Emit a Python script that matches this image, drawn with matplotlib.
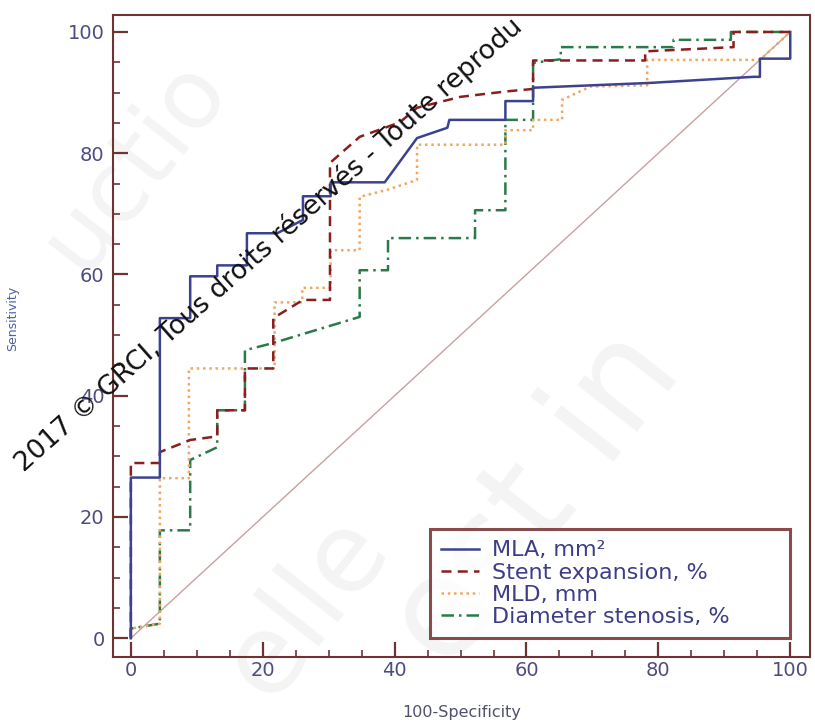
import matplotlib
matplotlib.use("Agg")
import matplotlib.pyplot as plt
import numpy as np

plt.rcParams['font.family'] = ['DejaVu Sans']

# ROC curves (x = 100-specificity, y = sensitivity)
mla_x = [0, 0, 4.4, 4.4, 9, 9, 13.1, 13.1, 17.6, 17.6, 22.2, 26.1, 26.1, 30.3, 30.3,
         38.5, 43.4, 48, 48.3, 56.8, 56.8, 61, 61, 78.8, 94.4, 95.4, 95.4, 100, 100]
mla_y = [0, 26.5, 26.5, 52.8, 52.8, 59.7, 59.7, 61.5, 61.5, 66.8, 66.8, 69, 72.9, 72.9, 75.2,
         75.2, 82.5, 84.2, 85.5, 85.5, 88.6, 88.6, 90.8, 91.6, 92.6, 92.6, 95.6, 95.6, 100]

stent_x = [0, 0, 4.4, 4.4, 9, 13.1, 13.1, 17.3, 17.3, 21.6, 21.6, 26.1, 30.2, 30.2,
           34.7, 40.8, 43.4, 50, 57, 61, 61, 78, 78, 91.4, 91.4, 100]
stent_y = [0, 28.9, 28.9, 30.7, 32.7, 33.3, 37.6, 37.6, 44.5, 44.5, 52.8, 55.8, 55.8, 78.4,
           82.7, 85.1, 87.5, 89.3, 90.2, 90.6, 95.3, 95.3, 96.8, 97.5, 100, 100]

mld_x = [0, 0, 4.4, 4.4, 8.8, 8.8, 21.8, 21.8, 26, 26, 30.3, 30.3, 34.7, 34.7, 39, 43.4,
         43.4, 56.8, 56.8, 61, 61, 65.4, 65.4, 69.7, 78.3, 78.3, 95.4, 100]
mld_y = [0, 1.6, 2.4, 26.4, 26.4, 44.5, 44.5, 55.4, 55.4, 57.8, 57.8, 64, 64, 72.8, 74, 75.6,
         81.4, 81.4, 83.8, 83.8, 85.5, 85.5, 88.8, 91, 91.2, 95.4, 95.4, 100]

ds_x = [0, 0, 4.4, 4.4, 9, 9, 13.1, 13.1, 17.3, 17.3, 21.6, 34.7, 34.7, 39, 39, 52.2, 52.2,
        56.8, 56.8, 61, 61, 65.2, 65.2, 82.3, 82.3, 91, 91, 100]
ds_y = [0, 1.6, 2.4, 17.8, 17.8, 29.4, 31.5, 37.6, 37.6, 47.5, 48.7, 53, 60.7, 60.7, 66, 66,
        70.6, 70.6, 85.5, 85.5, 94.9, 95.5, 97.5, 97.5, 98.7, 98.7, 100, 100]

labels = ["MLA, mm²", "Stent expansion, %", "MLD, mm", "Diameter stenosis, %"]

spine_col = "#6e3434"
tick_col = "#4d4d80"

fig = plt.figure(figsize=(8.15, 7.24), dpi=100)
ax = fig.add_axes([0.1387, 0.0925, 0.8552, 0.8868])
ax.patch.set_alpha(0)

# faint background watermark
for txt, x, y, fs in [("uctio", 0.10, 0.62, 70), ("est in", 0.55, 0.07, 100),
                      ("elle", 0.33, 0.03, 80)]:
    fig.text(x, y, txt, fontsize=fs, color="#f4f4f4", rotation=52,
             rotation_mode="anchor", ha="left", va="baseline", zorder=-1)

ax.plot([0, 100], [0, 100], color="#c9a0a0", lw=1.0, zorder=1)
ax.plot(mla_x, mla_y, color="#3c4290", lw=1.8, ls="-", label=labels[0], zorder=5)
ax.plot(stent_x, stent_y, color="#8a1e1e", lw=1.8, ls=(0, (4, 2.5)), label=labels[1], zorder=4)
ax.plot(mld_x, mld_y, color="#f0a860", lw=1.8, ls=(0, (1, 1.5)), label=labels[2], zorder=3)
ax.plot(ds_x, ds_y, color="#2a7a4a", lw=1.8, ls=(0, (5, 2, 1, 2)), label=labels[3], zorder=2)

ax.set_xlim(-2.7, 103)
ax.set_ylim(-3.1, 102.8)
ax.set_xticks(np.arange(0, 101, 20))
ax.set_yticks(np.arange(0, 101, 20))
ax.set_xticks(np.arange(0, 101, 5), minor=True)
ax.set_yticks(np.arange(0, 101, 5), minor=True)
ax.tick_params(which="major", direction="in", length=10.5, width=1.6, color=spine_col,
               labelsize=14, labelcolor=tick_col)
ax.tick_params(axis="x", which="major", pad=3)
ax.tick_params(axis="y", which="major", pad=6)
ax.tick_params(which="minor", direction="in", length=5, width=1.2, color=spine_col)
for s in ax.spines.values():
    s.set_color(spine_col)
    s.set_linewidth(1.5)

ax.set_xlabel("100-Specificity", fontsize=11.5, color="#505070", labelpad=18)
ax.set_ylabel("Sensitivity", fontsize=9, color="#5060a0")
ax.yaxis.set_label_coords(-0.135, 0.528)

leg = ax.legend(loc="lower left", bbox_to_anchor=(45.4, 0, 54.6, 20), bbox_transform=ax.transData,
                mode="expand", fontsize=16, frameon=True, fancybox=False, borderaxespad=0,
                handlelength=1.7, handletextpad=0.6, labelspacing=0.1, borderpad=0.5)
leg.get_frame().set_edgecolor("#6b1f1f")
leg.get_frame().set_linewidth(2.2)
for t in leg.get_texts():
    t.set_color("#3e3e88")

fig.text(0.0294, 0.348, "2017 © GRCI, Tous droits réservés - Toute reprodu",
         fontsize=19.2, color="#111111", rotation=41.6, rotation_mode="anchor",
         ha="left", va="baseline", zorder=10)

fig.savefig("out.png", dpi=100)
